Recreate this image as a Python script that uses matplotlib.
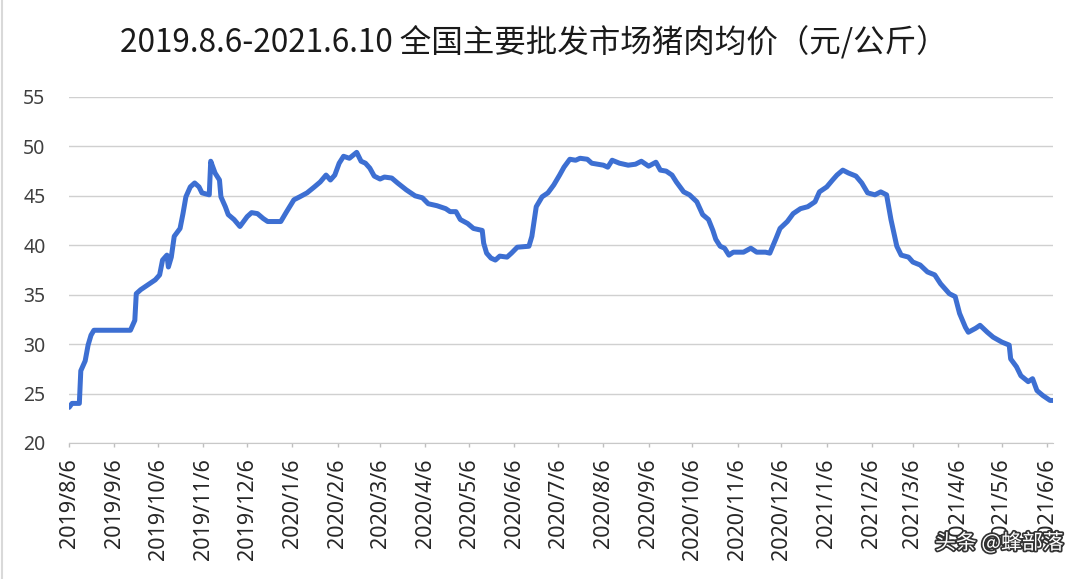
import matplotlib
matplotlib.use('Agg')
import matplotlib.pyplot as plt
import matplotlib.patheffects as pe
from matplotlib.lines import Line2D
import pandas as pd

plt.rcParams['font.family'] = ['Noto Sans CJK SC', 'DejaVu Sans']

title = '2019.8.6-2021.6.10 全国主要批发市场猪肉均价（元/公斤）'
watermark = '头条 @蜂部落'

dates = [
    '2019-08-06', '2019-08-08', '2019-08-13', '2019-08-14', '2019-08-17', '2019-08-19',
    '2019-08-21', '2019-08-23', '2019-09-17', '2019-09-20', '2019-09-21', '2019-09-24',
    '2019-09-29', '2019-10-04', '2019-10-07', '2019-10-09', '2019-10-12', '2019-10-13',
    '2019-10-15', '2019-10-17', '2019-10-21', '2019-10-23', '2019-10-25', '2019-10-28',
    '2019-10-31', '2019-11-03', '2019-11-05', '2019-11-10', '2019-11-11', '2019-11-14',
    '2019-11-17', '2019-11-18', '2019-11-21', '2019-11-23', '2019-11-27', '2019-12-01',
    '2019-12-06', '2019-12-09', '2019-12-13', '2019-12-17', '2019-12-20', '2019-12-29',
    '2020-01-02', '2020-01-07', '2020-01-11', '2020-01-16', '2020-01-21', '2020-01-25',
    '2020-01-29', '2020-02-01', '2020-02-04', '2020-02-07', '2020-02-10', '2020-02-14',
    '2020-02-19', '2020-02-22', '2020-02-25', '2020-02-28', '2020-03-02', '2020-03-06',
    '2020-03-09', '2020-03-14', '2020-03-18', '2020-03-24', '2020-03-30', '2020-04-04',
    '2020-04-08', '2020-04-14', '2020-04-20', '2020-04-23', '2020-04-27', '2020-04-30',
    '2020-05-05', '2020-05-09', '2020-05-15', '2020-05-16', '2020-05-18', '2020-05-21',
    '2020-05-24', '2020-05-27', '2020-06-01', '2020-06-04', '2020-06-08', '2020-06-16',
    '2020-06-18', '2020-06-21', '2020-06-25', '2020-06-29', '2020-07-03', '2020-07-07',
    '2020-07-10', '2020-07-14', '2020-07-18', '2020-07-21', '2020-07-26', '2020-07-29',
    '2020-08-06', '2020-08-09', '2020-08-12', '2020-08-17', '2020-08-23', '2020-08-28',
    '2020-09-01', '2020-09-06', '2020-09-11', '2020-09-14', '2020-09-18', '2020-09-22',
    '2020-09-25', '2020-09-30', '2020-10-04', '2020-10-09', '2020-10-13', '2020-10-17',
    '2020-10-20', '2020-10-22', '2020-10-25', '2020-10-28', '2020-10-31', '2020-11-03',
    '2020-11-10', '2020-11-15', '2020-11-19', '2020-11-25', '2020-11-28', '2020-12-02',
    '2020-12-05', '2020-12-10', '2020-12-14', '2020-12-19', '2020-12-24', '2020-12-29',
    '2021-01-01', '2021-01-06', '2021-01-10', '2021-01-13', '2021-01-17', '2021-01-21',
    '2021-01-26', '2021-01-30', '2021-02-03', '2021-02-08', '2021-02-12', '2021-02-16',
    '2021-02-19', '2021-02-23', '2021-02-26', '2021-03-03', '2021-03-06', '2021-03-11',
    '2021-03-16', '2021-03-21', '2021-03-25', '2021-03-31', '2021-04-04', '2021-04-07',
    '2021-04-11', '2021-04-13', '2021-04-18', '2021-04-21', '2021-04-26', '2021-04-30',
    '2021-05-06', '2021-05-11', '2021-05-12', '2021-05-16', '2021-05-19', '2021-05-24',
    '2021-05-27', '2021-05-30', '2021-06-03', '2021-06-08', '2021-06-10',
]
prices = [
    23.6, 24.0, 24.0, 27.3, 28.3, 29.9,
    30.9, 31.4, 31.4, 32.4, 35.1, 35.5,
    36.0, 36.5, 37.0, 38.5, 39.0, 37.8,
    38.8, 40.9, 41.7, 43.2, 44.9, 45.9,
    46.3, 45.9, 45.3, 45.1, 48.5, 47.3,
    46.6, 44.9, 43.9, 43.1, 42.6, 41.9,
    42.9, 43.3, 43.2, 42.7, 42.4, 42.4,
    43.4, 44.6, 44.9, 45.3, 45.9, 46.4,
    47.1, 46.6, 47.1, 48.3, 49.0, 48.8,
    49.4, 48.5, 48.3, 47.8, 47.0, 46.7,
    46.9, 46.8, 46.3, 45.6, 45.0, 44.8,
    44.2, 44.0, 43.7, 43.4, 43.4, 42.6,
    42.2, 41.7, 41.5, 40.2, 39.2, 38.7,
    38.5, 38.9, 38.8, 39.2, 39.8, 39.9,
    40.9, 43.9, 44.9, 45.3, 46.1, 47.1,
    47.9, 48.7, 48.6, 48.8, 48.7, 48.3,
    48.1, 47.9, 48.6, 48.3, 48.1, 48.2,
    48.5, 48.0, 48.4, 47.6, 47.5, 47.1,
    46.4, 45.4, 45.1, 44.4, 43.1, 42.6,
    41.5, 40.6, 39.9, 39.7, 39.0, 39.3,
    39.3, 39.7, 39.3, 39.3, 39.2, 40.6,
    41.7, 42.4, 43.2, 43.7, 43.9, 44.4,
    45.4, 45.9, 46.6, 47.1, 47.6, 47.3,
    47.0, 46.3, 45.3, 45.1, 45.4, 45.1,
    42.6, 39.9, 39.0, 38.8, 38.3, 38.0,
    37.3, 37.0, 36.1, 35.1, 34.8, 33.1,
    31.7, 31.2, 31.6, 31.9, 31.2, 30.7,
    30.2, 29.9, 28.5, 27.7, 26.8, 26.2,
    26.5, 25.3, 24.8, 24.3, 24.3,
]

tick_dates = pd.date_range('2019-08-01', '2021-06-01', freq='MS') + pd.Timedelta(days=5)
tick_labels = [f'{d.year}/{d.month}/{d.day}' for d in tick_dates]

x = pd.to_datetime(dates)

fig = plt.figure(figsize=(10.8, 5.79), dpi=100)
ax = fig.add_axes([0.064, 0.235, 0.911, 0.5975])

ax.plot(x, prices, color='#3d6fd2', lw=3.6, solid_joinstyle='round', solid_capstyle='round', zorder=3)

ax.set_ylim(20, 55)
ax.set_yticks(range(20, 56, 5))
ax.set_xlim(pd.Timestamp('2019-08-06'), pd.Timestamp('2021-06-10'))
ax.set_xticks(tick_dates)
ax.set_xticklabels(tick_labels)
for lab in ax.get_xticklabels():
    lab.set_rotation(90)
    lab.set_rotation_mode('anchor')
    lab.set_ha('right')
    lab.set_va('center')
    lab.set_fontfamily('Noto Sans')
    lab.set_fontsize(15.5)
    lab.set_color('#262626')
ax.tick_params(axis='x', length=3, width=1, color='#bfbfbf', pad=8)
ax.tick_params(axis='y', length=0, pad=17, labelsize=14, labelcolor='#404040')
for lab in ax.get_yticklabels():
    lab.set_fontfamily('Noto Sans')

ax.grid(axis='y', color='#d0d0d0', lw=1)
ax.set_axisbelow(True)
for s in ['top', 'right', 'left']:
    ax.spines[s].set_visible(False)
ax.spines['bottom'].set_color('#c8c8c8')

fig.text(0.494, 0.927, title, ha='center', va='center', fontsize=22.7, color='#1a1a1a')

fig.text(0.985, 0.062, watermark, ha='right', va='center', fontsize=15, color='white',
         path_effects=[pe.withStroke(linewidth=2.5, foreground='#333333')])

fig.add_artist(Line2D([0.002, 0.002], [0.0, 1.0], color='#d9d9d9', lw=1.5))

fig.savefig('out.png', dpi=100)
